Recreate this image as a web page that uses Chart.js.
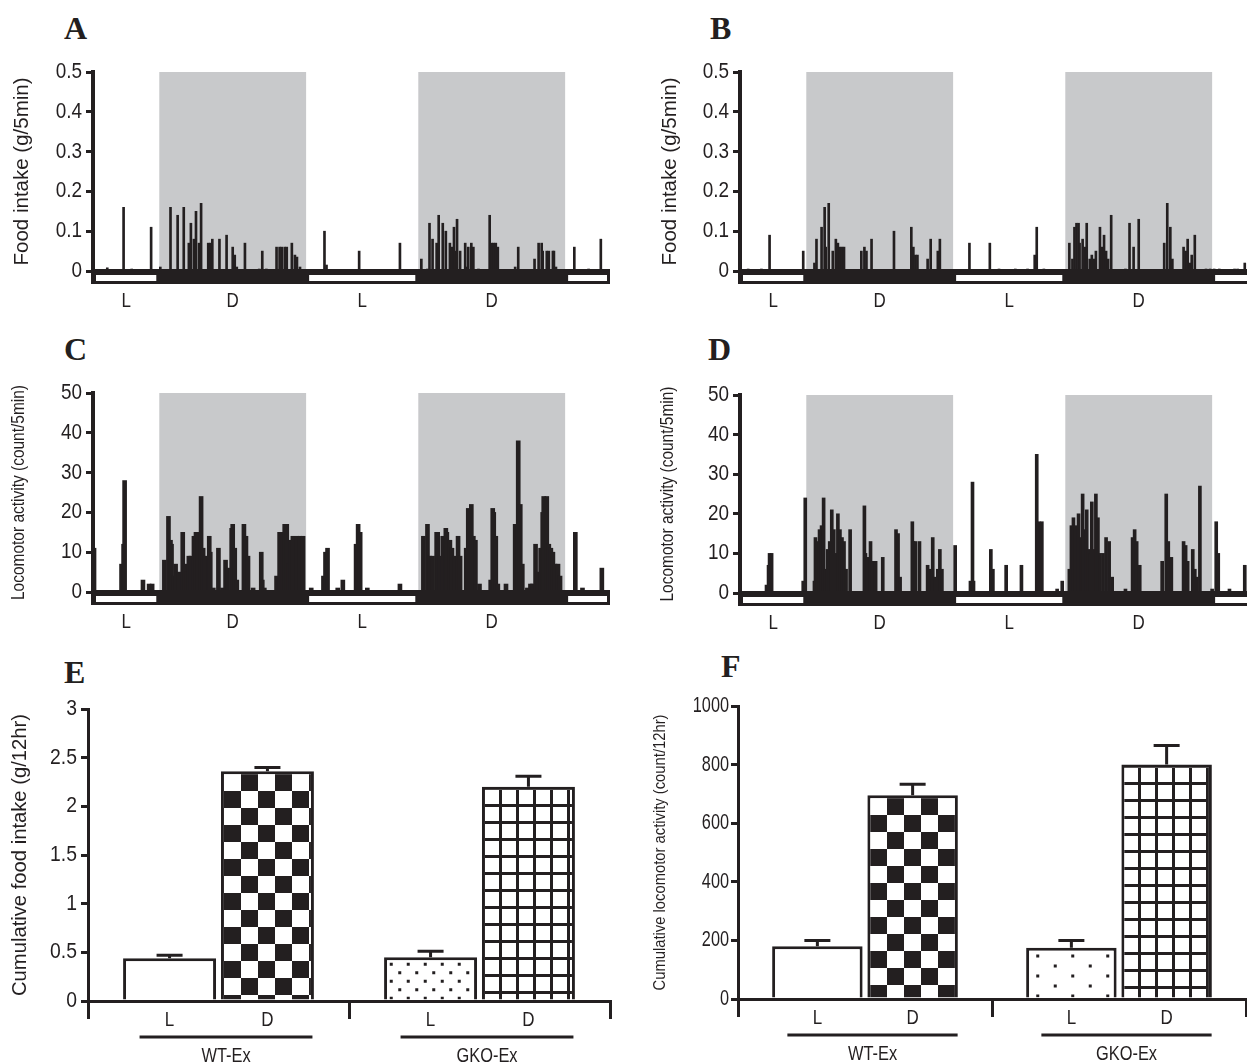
<!DOCTYPE html>
<html><head><meta charset="utf-8">
<script src="https://cdn.jsdelivr.net/npm/chart.js@4.4.1/dist/chart.umd.min.js"></script>
<style>
html,body{margin:0;padding:0;background:#fff;overflow:hidden;width:1247px;height:1063px;position:relative;}
canvas{position:absolute;}
.lbl{position:absolute;font:bold 32px 'Liberation Serif','Times New Roman',serif;color:#231f20;line-height:1;}
</style></head><body>
<div class="lbl" style="left:64px;top:12px">A</div>
<div class="lbl" style="left:710px;top:12px">B</div>
<div class="lbl" style="left:64px;top:333px">C</div>
<div class="lbl" style="left:708px;top:333px">D</div>
<div class="lbl" style="left:64px;top:656px">E</div>
<div class="lbl" style="left:721px;top:650px">F</div>
<canvas id="cA" width="620" height="280" style="left:0;top:40px"></canvas>
<canvas id="cB" width="647" height="280" style="left:620px;top:40px"></canvas>
<canvas id="cC" width="620" height="280" style="left:0;top:360px"></canvas>
<canvas id="cD" width="647" height="280" style="left:620px;top:360px"></canvas>
<canvas id="cE" width="620" height="413" style="left:0;top:650px"></canvas>
<canvas id="cF" width="627" height="413" style="left:620px;top:650px"></canvas>
<script>
const DARK = '#231f20', SHADE = '#c8c9cb';
const SANS = "'Liberation Sans', Arial, Helvetica, sans-serif";

// ---- light / dark phases, in 5-min bins ----
const phaseStart = [0, 65, 209, 319, 463];
const phaseEnd   = [65, 209, 319, 463, 507];
const phaseLabel = ['L', 'D', 'L', 'D', ''];
const phaseDark  = [false, true, false, true, false];
const binMax = 507;

// ---- A: food intake, WT-Ex (g / 5 min) ----
const foodWTBin = [14,30,38,57,66,76,83,89,94,96,99,101,104,106,113,115,117,124,131,137,139,141,149,163,166,170,180,183,185,188,190,195,198,200,203,227,229,261,301,322,328,330,333,337,339,343,346,350,352,354,355,357,360,365,366,368,371,373,378,389,391,393,395,397,414,417,433,437,440,441,445,447,451,452,454,472,486,498];
const foodWTVal = [0.008,0.16,0.005,0.11,0.01,0.16,0.14,0.16,0.07,0.12,0.08,0.15,0.07,0.17,0.07,0.07,0.08,0.08,0.09,0.06,0.04,0.01,0.07,0.005,0.05,0.005,0.06,0.06,0.06,0.06,0.06,0.07,0.04,0.035,0.01,0.1,0.015,0.05,0.07,0.03,0.005,0.12,0.08,0.07,0.14,0.12,0.1,0.07,0.06,0.11,0.05,0.13,0.05,0.07,0.01,0.06,0.07,0.06,0.005,0.14,0.07,0.07,0.07,0.06,0.01,0.06,0.03,0.07,0.07,0.05,0.05,0.05,0.05,0.05,0.01,0.06,0.005,0.08];

// ---- B: food intake, GKO-Ex ----
const foodKOBin = [8,21,29,62,73,75,80,83,84,87,91,94,96,98,100,102,119,122,124,129,151,168,170,172,174,184,187,194,196,225,245,254,270,282,289,291,298,323,326,328,330,332,333,336,338,340,343,345,347,349,353,355,357,359,361,364,378,382,386,391,416,419,422,424,435,437,439,441,443,446,457,461,465,470,485,488,495];
const foodKOVal = [0.005,0.005,0.09,0.05,0.02,0.08,0.11,0.16,0.06,0.17,0.05,0.08,0.07,0.06,0.06,0.06,0.05,0.06,0.05,0.08,0.1,0.11,0.06,0.04,0.04,0.03,0.08,0.05,0.08,0.07,0.07,0.005,0.005,0.005,0.04,0.11,0.005,0.07,0.03,0.11,0.12,0.12,0.07,0.08,0.06,0.12,0.03,0.04,0.03,0.05,0.11,0.06,0.09,0.05,0.03,0.14,0.005,0.12,0.06,0.13,0.07,0.17,0.11,0.03,0.06,0.05,0.08,0.02,0.04,0.09,0.005,0.005,0.005,0.005,0.005,0.005,0.02];

// ---- C: locomotor activity, WT-Ex (count / 5 min) ----
const locoWTBin = [1,28,30,31,49,55,58,70,74,76,77,79,81,84,88,90,92,94,96,99,101,103,106,108,110,114,115,118,123,127,130,132,136,137,139,141,148,150,152,157,165,166,168,180,183,186,188,190,192,194,196,200,203,206,214,226,228,230,240,245,258,260,262,269,301,324,328,330,333,337,338,340,343,346,347,350,352,355,358,360,366,368,371,373,375,379,390,392,393,395,397,405,414,417,419,421,426,429,431,434,436,439,441,442,445,447,449,451,453,456,458,473,480,499];
const locoWTVal = [11,7,12,28,3,2,2,8,19,13,12,4,7,5,15,7,5,9,9,14,15,15,24,11,9,14,10,1,11,1,8,6,16,17,11,3,17,14,9,1,10,3,1,4,15,15,17,17,7,13,14,14,14,14,1,4,10,11,1,3,12,17,15,1,2,14,17,9,9,15,15,9,14,16,15,13,11,9,14,9,11,21,22,14,13,2,3,21,20,14,2,2,17,38,22,7,1,2,2,12,5,11,20,24,24,12,11,10,7,7,4,15,1,6];

// ---- D: locomotor activity, GKO-Ex ----
const locoKOBin = [26,28,29,31,62,64,73,74,76,78,80,82,84,86,88,90,92,94,96,98,100,102,104,108,122,123,125,128,130,133,140,153,155,157,169,170,172,176,184,186,189,192,194,196,198,211,226,228,229,246,248,261,276,291,293,296,311,316,323,325,327,329,332,335,336,337,340,342,344,345,347,349,351,353,356,359,362,365,378,385,387,389,392,414,418,420,423,435,437,439,444,446,448,451,463,467,469,480,495];
const locoKOVal = [2,7,10,10,3,24,3,14,13,16,17,24,6,11,13,21,16,10,20,16,14,13,6,16,22,10,9,13,8,8,9,16,15,4,18,13,13,13,7,6,14,4,6,11,6,12,3,28,3,11,6,7,7,35,18,18,1,3,6,17,19,17,20,14,25,16,21,11,10,23,11,25,19,10,10,14,13,4,1,14,16,13,7,8,25,13,9,13,12,8,11,6,4,27,1,18,10,1,7];

// ---- E / F: cumulative per 12 h (mean, SEM) ----
const cumGroups = ['WT-Ex', 'GKO-Ex'];
const phaseNames = ['L', 'D'];
const cumFoodL = [0.44, 0.45], cumFoodLErr = [0.03, 0.06];
const cumFoodD = [2.36, 2.20], cumFoodDErr = [0.04, 0.11];
const cumLocoL = [180, 175],   cumLocoLErr = [20, 25];
const cumLocoD = [695, 800],   cumLocoDErr = [38, 65];

Chart.defaults.font.family = SANS;
Chart.defaults.color = DARK;

// condensed text helper (Helvetica-condensed look)
function ntext(ctx, str, x, y, size, sx, align, rot) {
  ctx.save();
  ctx.translate(x, y);
  if (rot) ctx.rotate(rot);
  ctx.scale(sx, 1);
  ctx.font = size + 'px ' + SANS;
  ctx.fillStyle = DARK;
  ctx.textAlign = align;
  ctx.textBaseline = 'middle';
  ctx.fillText(str, 0, 0);
  ctx.restore();
}
// rotated axis title fitted to a length
function vtitle(ctx, str, x, yc, size, len) {
  ctx.save();
  ctx.font = size + 'px ' + SANS;
  const w = ctx.measureText(str).width;
  ctx.restore();
  ntext(ctx, str, x, yc, size, len / w, 'center', -Math.PI / 2);
}
function yTickLabels(chart, o) {
  const {ctx, chartArea: a, scales: {y}} = chart;
  y.ticks.forEach(t => ntext(ctx, t.label, a.left - o.tickGap, y.getPixelForValue(t.value), o.tickSize, o.tickSx, 'right'));
  vtitle(ctx, o.title, o.titleX, (a.top + a.bottom) / 2, o.titleSize, o.titleLen);
}

// ---------- time-course panels ----------
const ldPlugin = {
  id: 'ld',
  beforeDatasetsDraw(chart) {
    const {ctx, scales: {x, y}} = chart;
    const yTop = y.getPixelForValue(y.max), y0 = y.getPixelForValue(0);
    ctx.save();
    ctx.fillStyle = SHADE;
    phaseStart.forEach((s, i) => {
      if (!phaseDark[i]) return;
      const x0 = x.getPixelForValue(s), x1 = x.getPixelForValue(phaseEnd[i]);
      ctx.fillRect(x0, yTop, x1 - x0, y0 - yTop);
    });
    ctx.restore();
  },
  afterDatasetsDraw(chart) {
    const {ctx, chartArea: a, scales: {x, y}} = chart;
    const y0 = y.getPixelForValue(0);
    const barTop = y0 + 1, barH = 12;
    ctx.save();
    ctx.fillStyle = DARK;
    ctx.fillRect(a.left, y0 - 2, a.right - a.left, 4);
    ctx.fillRect(a.left, barTop, a.right - a.left, barH);
    ctx.fillStyle = '#fff';
    phaseStart.forEach((s, i) => {
      if (phaseDark[i]) return;
      const x0 = Math.max(x.getPixelForValue(s), a.left) + 3;
      const x1 = Math.min(x.getPixelForValue(phaseEnd[i]), a.right) - 3;
      ctx.fillRect(x0, barTop + 3, x1 - x0, barH - 6);
    });
    ctx.fillStyle = DARK;
    ctx.fillRect(a.left - 2, y0, 4, barTop + barH - y0);
    ctx.restore();
    phaseStart.forEach((s, i) => {
      if (!phaseLabel[i]) return;
      const xm = (x.getPixelForValue(s) + x.getPixelForValue(phaseEnd[i])) / 2;
      ntext(ctx, phaseLabel[i], xm, y0 + 30, 20, 0.85, 'center');
    });
  },
  afterDraw(chart) { yTickLabels(chart, chart.options.plugins.txt); }
};

function timeChart(id, bins, vals, yMax, yStep, txt, o) {
  return new Chart(document.getElementById(id), {
    type: 'bar',
    data: {datasets: [{
      data: bins.map((b, i) => ({x: b, y: vals[i]})),
      backgroundColor: DARK, borderWidth: 0, barThickness: o.bar, grouped: false
    }]},
    options: {
      responsive: false, animation: false, events: [],
      layout: {padding: {top: o.pt, bottom: o.pb, right: o.pr, left: 0}},
      plugins: {legend: {display: false}, tooltip: {enabled: false}, txt: txt},
      scales: {
        x: {type: 'linear', min: 0, max: binMax, display: false, offset: false},
        y: {
          min: 0, max: yMax,
          afterFit(s) { s.width = o.yw; },
          ticks: {stepSize: yStep, display: false},
          grid: {drawOnChartArea: false, drawTicks: true, tickLength: 7, lineWidth: 3, color: DARK},
          border: {width: 4, color: DARK}
        }
      }
    },
    plugins: [ldPlugin]
  });
}

const foodTxt = (x) => ({title: 'Food intake (g/5min)', titleX: x, titleSize: 20, titleLen: 188, tickSize: 22, tickSx: 0.86, tickGap: 11});
const locoTxt = (x) => ({title: 'Locomotor activity (count/5min)', titleX: x, titleSize: 18, titleLen: 215, tickSize: 22, tickSx: 0.86, tickGap: 11});

timeChart('cA', foodWTBin, foodWTVal, 0.5, 0.1, foodTxt(22), {bar: 2, pt: 32, pb: 49, pr: 10, yw: 93});
timeChart('cB', foodKOBin, foodKOVal, 0.5, 0.1, foodTxt(50), {bar: 2, pt: 32, pb: 49, pr: 10, yw: 120});
timeChart('cC', locoWTBin, locoWTVal, 50, 10, locoTxt(19), {bar: 4, pt: 33, pb: 48, pr: 10, yw: 93});
timeChart('cD', locoKOBin, locoKOVal, 50, 10, locoTxt(48), {bar: 3, pt: 35, pb: 47, pr: 10, yw: 120});

// ---------- patterns ----------
function mk(w, h, draw) {
  const c = document.createElement('canvas'); c.width = w; c.height = h;
  const g = c.getContext('2d'); g.fillStyle = '#fff'; g.fillRect(0, 0, w, h);
  g.fillStyle = DARK; draw(g);
  return g.createPattern(c, 'repeat');
}
const checker = s => mk(2 * s, 2 * s, g => { g.fillRect(s, 0, s, s); g.fillRect(0, s, s, s); });
const gridPat = (s, lw) => mk(s, s, g => { g.fillRect(s - lw, 0, lw, s); g.fillRect(0, s - lw, s, lw); });
const dots = (w, h, d) => mk(w, 2 * h, g => { g.fillRect(w / 4 - d / 2, h / 2 - d / 2, d, d); g.fillRect(3 * w / 4 - d / 2, 1.5 * h - d / 2, d, d); });

const cumPlugin = {
  id: 'cum',
  beforeDatasetsDraw(chart) {
    chart.data.datasets.forEach((ds, di) => {
      chart.getDatasetMeta(di).data.forEach((bar, i) => {
        const bg = Array.isArray(ds.backgroundColor) ? ds.backgroundColor[i] : ds.backgroundColor;
        if (bg && typeof bg === 'object' && bg.setTransform) {
          const p = bar.getProps(['x', 'y', 'width'], true);
          bg.setTransform(new DOMMatrix([1, 0, 0, 1, Math.round(p.x - p.width / 2 + 3), Math.round(p.y + 3)]));
        }
      });
    });
  },
  afterDatasetsDraw(chart) {
    const {ctx, scales: {y}} = chart;
    ctx.save();
    ctx.strokeStyle = DARK; ctx.lineWidth = 3;
    chart.data.datasets.forEach((ds, di) => {
      chart.getDatasetMeta(di).data.forEach((bar, i) => {
        const p = bar.getProps(['x', 'y'], true);
        const ye = y.getPixelForValue(ds.data[i] + ds.err[i]);
        ctx.beginPath();
        ctx.moveTo(p.x, p.y); ctx.lineTo(p.x, ye);
        ctx.moveTo(p.x - 13, ye); ctx.lineTo(p.x + 13, ye);
        ctx.stroke();
      });
    });
    ctx.restore();
  },
  afterDraw(chart) {
    const {ctx, chartArea: a} = chart;
    const mL = chart.getDatasetMeta(0).data, mD = chart.getDatasetMeta(1).data;
    ctx.save();
    ctx.strokeStyle = DARK; ctx.lineWidth = 3;
    cumGroups.forEach((gname, i) => {
      const xl = mL[i].x, xd = mD[i].x;
      ntext(ctx, phaseNames[0], xl, a.bottom + 19, 20, 0.85, 'center');
      ntext(ctx, phaseNames[1], xd, a.bottom + 19, 20, 0.85, 'center');
      const u0 = xl - 30, u1 = xd + 45;
      ctx.beginPath(); ctx.moveTo(u0, a.bottom + 36); ctx.lineTo(u1, a.bottom + 36); ctx.stroke();
      ntext(ctx, gname, (u0 + u1) / 2, a.bottom + 55, 20, 0.82, 'center');
    });
    ctx.restore();
    yTickLabels(chart, chart.options.plugins.txt);
  }
};

function cumChart(id, L, Lerr, D, Derr, yMax, yStep, txt, o) {
  return new Chart(document.getElementById(id), {
    type: 'bar',
    data: {
      labels: cumGroups,
      datasets: [
        {data: L, err: Lerr, backgroundColor: ['#fff', dots(o.dw, o.dh, 3)], borderColor: DARK, borderWidth: 3},
        {data: D, err: Derr, backgroundColor: [checker(17), gridPat(17, 3)], borderColor: DARK, borderWidth: 3}
      ]
    },
    options: {
      responsive: false, animation: false, events: [],
      categoryPercentage: 0.75, barPercentage: 0.95,
      layout: {padding: {top: o.pt, bottom: o.pb, right: o.pr, left: 0}},
      plugins: {legend: {display: false}, tooltip: {enabled: false}, txt: txt},
      scales: {
        x: {
          afterFit(s) { s.height = 20; },
          ticks: {display: false},
          grid: {offset: true, drawOnChartArea: false, drawTicks: true, tickLength: 18, lineWidth: 3, color: DARK},
          border: {width: 3, color: DARK}
        },
        y: {
          min: 0, max: yMax,
          afterFit(s) { s.width = o.yw; },
          ticks: {stepSize: yStep, display: false, callback: v => String(v)},
          grid: {drawOnChartArea: false, drawTicks: true, tickLength: 7, lineWidth: 3, color: DARK},
          border: {width: 3, color: DARK}
        }
      }
    },
    plugins: [cumPlugin]
  });
}

cumChart('cE', cumFoodL, cumFoodLErr, cumFoodD, cumFoodDErr, 3, 0.5,
  {title: 'Cumulative food intake (g/12hr)', titleX: 20, titleSize: 20, titleLen: 282, tickSize: 22, tickSx: 0.88, tickGap: 11},
  {pt: 59, pb: 42, pr: 10, yw: 88, dw: 17, dh: 8.5});
cumChart('cF', cumLocoL, cumLocoLErr, cumLocoD, cumLocoDErr, 1000, 200,
  {title: 'Cumulative locomotor activity (count/12hr)', titleX: 40, titleSize: 17, titleLen: 276, tickSize: 22, tickSx: 0.74, tickGap: 9},
  {pt: 56, pb: 44, pr: 1, yw: 118, dw: 35, dh: 10});
</script>
</body></html>
